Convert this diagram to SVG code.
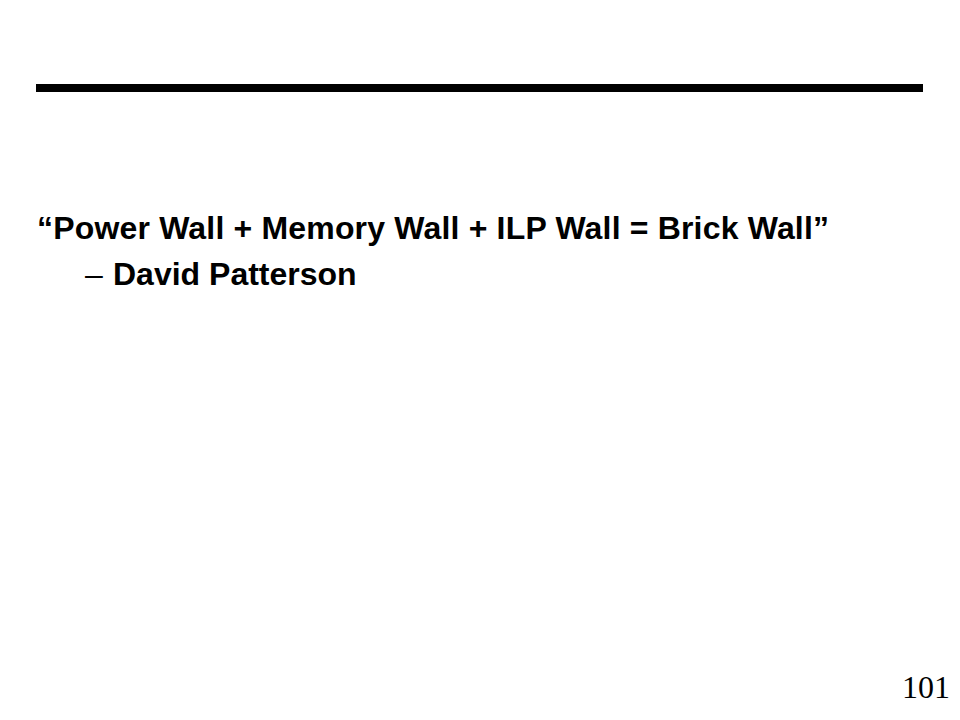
<svg xmlns="http://www.w3.org/2000/svg" width="960" height="720" viewBox="0 0 960 720">
<style>
.t{font-family:"Liberation Sans",Arial,sans-serif;font-weight:bold;font-size:32px;fill:#000}
.d{font-family:"Liberation Sans",Arial,sans-serif;font-size:32px;fill:#000}
.n{font-family:"Liberation Serif","Times New Roman",serif;font-size:32px;fill:#000}
</style>
<rect width="960" height="720" fill="#fff"/>
<g id="title-bar"><rect x="36" y="84" width="887" height="8" fill="#000"/></g>
<g id="quote">
<text class="t" x="37" y="239" textLength="792" lengthAdjust="spacing">“Power Wall + Memory Wall + ILP Wall = Brick Wall”</text>
</g>
<g id="author">
<text class="d" x="85" y="285">–</text>
<text class="t" x="113" y="285">David Patterson</text>
</g>
<g id="page-number"><text class="n" x="950" y="698" text-anchor="end">101</text></g>
<g id="connectors"/>
</svg>
